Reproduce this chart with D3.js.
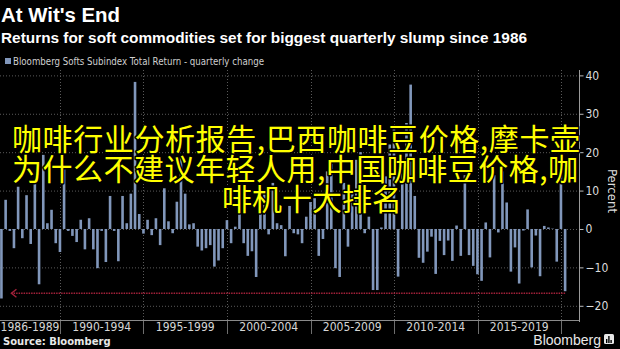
<!DOCTYPE html>
<html>
<head>
<meta charset="utf-8">
<script src="https://cdn.jsdelivr.net/npm/d3@7"></script>
<style>
  html, body { margin: 0; padding: 0; background: #000; }
  svg { display: block; }
</style>
</head>
<body>
<svg id="chart" width="620" height="349"></svg>
<script>
// Bloomberg Softs Subindex Total Return, quarterly % change, 1986 Q2 .. 2020 Q1
const firstQuarter = { year: 1986, q: 2 };
const quarterlyChange = [
  -18.1, 7.6, -0.5, -5.0, 11.0, -2.4, 8.8, -3.9, 12.0, -14.4,
  19.3, 1.5, 5.0, -3.7, -6.0, 16.7, -0.5, -1.8, -3.4, 2.4,
  -5.3, 2.8, -5.3, -10.2, -0.5, -8.6, 8.6, -0.5, -8.4, 8.6,
  1.5, 9.2, 38.3, 3.9, -1.2, 2.4, -1.6, 2.8, -4.2, 10.6,
  2.0, -1.1, 7.1, 18.7, 9.2, 1.2, 1.5, -4.6, -5.6, -5.0,
  -4.2, -9.8, -8.2, -5.0, 2.3, -3.7, 0.6, 6.0, -3.7, -7.0,
  -5.8, -12.5, 8.0, 10.0, -1.4, 12.0, 1.5, 1.0, -7.1, 6.0,
  -1.1, -1.4, -3.7, 3.2, 7.0, 8.0, -7.0, -2.6, 15.0, 17.0,
  -10.2, -12.5, 12.0, -4.6, 10.0, 18.0, 20.0, -1.1, 3.2, -15.9,
  -15.9, 0.4, 13.7, 22.0, 26.0, -12.4, 15.0, 27.6, 37.6, 8.6,
  -7.5, -8.8, -5.9, -2.0, -11.7, -3.1, -6.8, -3.0, -8.3, 0.9,
  -7.0, 14.0, -6.8, -9.6, -11.8, -13.5, 1.7, -7.4, 14.0, -0.9,
  15.0, 6.9, -11.1, -4.8, -14.2, -0.4, 5.1, -10.0, -1.7, -12.3,
  0.8, 0.4, 0.1, -8.5, 14.0, -16.2
];
const periodLabels = ["1986-1989", "1990-1994", "1995-1999", "2000-2004", "2005-2009", "2010-2014", "2015-2019"];
const periodBreaks = [1990, 1995, 2000, 2005, 2010, 2015, 2020];
const yTicks = [40, 30, 20, 10, 0, -10, -20];
const titleText = "At Wit's End";
const subtitleText = "Returns for soft commodities set for biggest quarterly slump since 1986";
const legendText = "Bloomberg Softs Subindex Total Return - quarterly change";
const sourceText = "Source: Bloomberg";
const overlayLines = [
  "咖啡行业分析报告,巴西咖啡豆价格,摩卡壶",
  "为什么不建议年轻人用,中国咖啡豆价格,咖",
  "啡机十大排名"
];

// each bar sits on its quarter-end date
const bars = quarterlyChange.map((v, i) => {
  const qIndex = firstQuarter.q - 1 + i;
  const year = firstQuarter.year + Math.floor(qIndex / 4);
  const q = qIndex % 4 + 1;
  return { date: new Date(year, q * 3, 0), value: v };
});

const svg = d3.select("#chart");
const plot = { left: 0, right: 579, top: 70, bottom: 320 };
const barColor = "#8197bb";

const x = d3.scaleTime()
  .domain([new Date(1990, 0, 1), new Date(2020, 0, 1)])
  .range([60, 561]);
const y = d3.scaleLinear()
  .domain([-23.7, 41.4])
  .range([plot.bottom, plot.top]);

// horizontal dotted gridlines
svg.append("g")
  .selectAll("line")
  .data(yTicks)
  .join("line")
  .attr("x1", plot.left).attr("x2", plot.right)
  .attr("y1", d => y(d) + 0.5).attr("y2", d => y(d) + 0.5)
  .attr("stroke", "#5a5a5a").attr("stroke-width", 1)
  .attr("stroke-dasharray", "1,2");

// vertical dotted period separators
const breakDates = periodBreaks.map(yr => new Date(yr, 0, 1));
svg.append("g")
  .selectAll("line")
  .data(breakDates)
  .join("line")
  .attr("x1", d => Math.round(x(d)) + 0.5).attr("x2", d => Math.round(x(d)) + 0.5)
  .attr("y1", plot.top).attr("y2", plot.bottom)
  .attr("stroke", "#5a5a5a").attr("stroke-width", 1)
  .attr("stroke-dasharray", "1,2");
svg.append("g")
  .selectAll("line")
  .data(breakDates)
  .join("line")
  .attr("x1", d => Math.round(x(d)) + 0.5).attr("x2", d => Math.round(x(d)) + 0.5)
  .attr("y1", plot.bottom).attr("y2", plot.bottom + 14)
  .attr("stroke", "#6e6e6e").attr("stroke-width", 1);

// bars
const barW = 2.6;
svg.append("g")
  .selectAll("rect")
  .data(bars)
  .join("rect")
  .attr("x", d => x(d.date) - barW / 2)
  .attr("width", barW)
  .attr("y", d => Math.min(y(d.value), y(0)))
  .attr("height", d => Math.abs(y(d.value) - y(0)))
  .attr("fill", barColor);

// red dotted reference from the latest quarter back to the 1986 slump
const last = bars[bars.length - 1];
const refY = y(last.value) + 2;
const arrowX = x(bars[0].date) + 10;
svg.append("line")
  .attr("x1", x(last.date)).attr("x2", arrowX)
  .attr("y1", refY).attr("y2", refY)
  .attr("stroke", "#a3213a").attr("stroke-width", 1.4)
  .attr("stroke-dasharray", "1.5,1");
svg.append("path")
  .attr("d", `M${arrowX + 5},${refY - 4} L${arrowX},${refY} L${arrowX + 5},${refY + 4}`)
  .attr("fill", "none").attr("stroke", "#a3213a").attr("stroke-width", 1.4);

// axis lines
svg.append("line")
  .attr("x1", plot.left).attr("x2", plot.right + 0.5)
  .attr("y1", plot.bottom + 0.5).attr("y2", plot.bottom + 0.5)
  .attr("stroke", "#8a8a8a");
svg.append("line")
  .attr("x1", plot.right + 0.5).attr("x2", plot.right + 0.5)
  .attr("y1", plot.top).attr("y2", plot.bottom + 2)
  .attr("stroke", "#9a9a9a");

// right value axis
const yAxis = d3.axisRight(y).tickValues(yTicks).tickSize(4).tickPadding(2);
const yAxisG = svg.append("g")
  .attr("transform", `translate(${plot.right + 0.5},0)`)
  .call(yAxis);
yAxisG.select(".domain").remove();
yAxisG.selectAll("line").attr("stroke", "#bbbbbb");
yAxisG.selectAll("text")
  .attr("fill", "#dddddd")
  .style("font-family", "'Liberation Sans Narrow', 'DejaVu Sans Condensed', 'Liberation Sans', sans-serif")
  .style("font-size", "12px");

svg.append("text")
  .attr("transform", `translate(608,191) rotate(90)`)
  .attr("text-anchor", "middle")
  .attr("fill", "#dddddd")
  .style("font-family", "'Liberation Sans Narrow', 'DejaVu Sans Condensed', 'Liberation Sans', sans-serif")
  .style("font-size", "13px")
  .text("Percent");

// period labels under the axis
const periodEdges = [x.invert(plot.left)].concat(breakDates);
svg.append("g")
  .selectAll("text")
  .data(periodLabels)
  .join("text")
  .attr("x", (d, i) => (x(periodEdges[i]) + x(periodEdges[i + 1])) / 2)
  .attr("y", 331)
  .attr("text-anchor", "middle")
  .attr("fill", "#d6d6d6")
  .style("font-family", "'Liberation Sans Narrow', 'DejaVu Sans Condensed', 'Liberation Sans', sans-serif")
  .style("font-size", "12px")
  .text(d => d);

// titles
svg.append("text")
  .attr("x", 1).attr("y", 22)
  .attr("fill", "#ffffff")
  .attr("textLength", 119).attr("lengthAdjust", "spacingAndGlyphs")
  .style("font-family", "'Liberation Sans', Arial, sans-serif")
  .style("font-weight", "bold").style("font-size", "20px")
  .text(titleText);
svg.append("text")
  .attr("x", 1).attr("y", 43)
  .attr("fill", "#ffffff")
  .attr("textLength", 526).attr("lengthAdjust", "spacingAndGlyphs")
  .style("font-family", "'Liberation Sans', Arial, sans-serif")
  .style("font-weight", "bold").style("font-size", "14.5px")
  .text(subtitleText);

// legend
svg.append("rect")
  .attr("x", 5).attr("y", 58).attr("width", 6).attr("height", 6)
  .attr("fill", barColor);
svg.append("text")
  .attr("x", 13).attr("y", 65)
  .attr("fill", "#cfcfcf")
  .attr("textLength", 251).attr("lengthAdjust", "spacingAndGlyphs")
  .style("font-family", "'Liberation Sans Narrow', 'DejaVu Sans Condensed', 'Liberation Sans', sans-serif")
  .style("font-size", "10.5px")
  .text(legendText);

// footer
svg.append("text")
  .attr("x", 3).attr("y", 345)
  .attr("fill", "#e8e8e8")
  .style("font-family", "'DejaVu Sans', sans-serif")
  .style("font-weight", "bold").style("font-size", "10px")
  .text(sourceText);
svg.append("text")
  .attr("x", 601).attr("y", 345)
  .attr("text-anchor", "end")
  .attr("fill", "#e8e8e8")
  .style("font-family", "'Liberation Sans', Arial, sans-serif")
  .style("font-size", "14px")
  .text("Bloomberg");
const logo = svg.append("g").attr("transform", "translate(604,334)");
logo.append("rect").attr("width", 10).attr("height", 10).attr("rx", 1.5).attr("fill", "#e8e8e8");
logo.selectAll("rect.bar")
  .data([4, 7, 3])
  .join("rect")
  .attr("class", "bar")
  .attr("x", (d, i) => 2 + i * 2.2).attr("width", 1.4)
  .attr("y", d => 9 - d).attr("height", d => d)
  .attr("fill", "#000");

// headline overlay
const overlay = svg.append("g")
  .style("font-family", "'Noto Sans CJK SC', sans-serif")
  .style("font-size", "30px")
  .attr("fill", "#ffff00")
  .attr("stroke", "#000")
  .attr("stroke-width", 3)
  .attr("stroke-linejoin", "round")
  .style("paint-order", "stroke");
overlay.append("text").attr("x", 12).attr("y", 150)
  .attr("textLength", 568).attr("lengthAdjust", "spacing").text(overlayLines[0]);
overlay.append("text").attr("x", 12).attr("y", 180)
  .attr("textLength", 566).attr("lengthAdjust", "spacing").text(overlayLines[1]);
overlay.append("text").attr("x", 312).attr("y", 210)
  .attr("text-anchor", "middle").text(overlayLines[2]);
</script>
</body>
</html>
